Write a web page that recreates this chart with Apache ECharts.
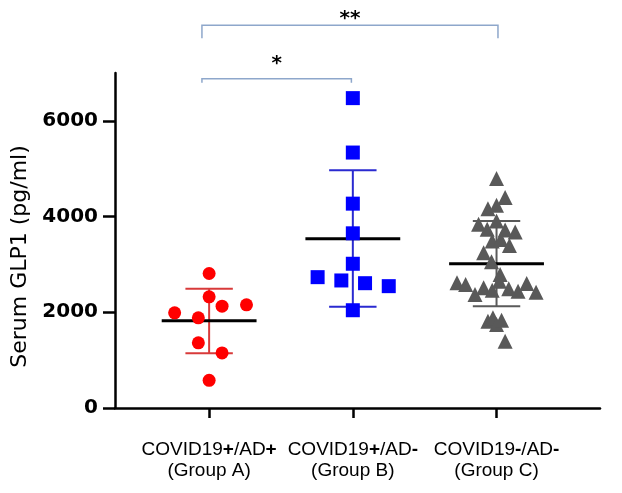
<!DOCTYPE html>
<html>
<head>
<meta charset="utf-8">
<script src="https://cdn.jsdelivr.net/npm/echarts@6/dist/echarts.min.js"></script>
<style>html,body{margin:0;padding:0;background:#fff}#c{width:622px;height:493px}</style>
</head>
<body>
<div id="c"></div>
<script>
// ---- data ----
const categories = ['COVID19+/AD+\n(Group A)', 'COVID19+/AD-\n(Group B)', 'COVID19-/AD-\n(Group C)'];
const yTicks = [0, 2000, 4000, 6000];

const groupAValues = [2811, 2323, 2127, 2156, 1988, 1884, 1361, 1151, 578];
const groupAJitter = [0, 0, 0.09, 0.26, -0.24, -0.075, -0.075, 0.09, 0];

const groupBValues = [6475, 5338, 4270, 3650, 3014, 2734, 2665, 2608, 2546, 2043];
const groupBJitter = [0, 0, 0, 0, 0, -0.245, -0.08, 0.085, 0.25, 0];

const groupCValues = [4794, 4396, 4166, 4235, 3837, 3906, 3733, 3718, 3676, 3488,
                      3523, 3398, 3245, 3057, 2790, 2650, 2617, 2581, 2512, 2462,
                      2372, 2491, 2441, 2602, 2420, 1813, 1884, 1744, 1834, 1394];
const groupCJitter = [0, 0.06, -0.06, 0, -0.125, 0, -0.065, 0.06, 0.13, -0.03,
                      0.03, 0.09, -0.09, -0.035, 0.025, 0.02, -0.275, -0.215, -0.09, -0.03,
                      -0.15, 0.085, 0.15, 0.21, 0.275, -0.06, -0.025, 0, 0.035, 0.06];

const groupMeans = [1821, 3538, 3014];
const groupSdLow = [1143, 2114, 2127];
const groupSdHigh = [2491, 4968, 3906];

const sigFrom = [0.95, 0.95];
const sigTo = [1.99, 3.01];
const sigLevel = [6880, 8000];
const sigDrop = [85, 272];
const sigLabels = ['*', '**'];

// ---- styles ----
const groupColors = ['#ff0000', '#0000ff', '#595959'];
const errColors = ['#d83a3a', '#2a2ad0', '#5a5a5a'];
const symbols = ['circle', 'rect', 'triangle'];
const symbolSizes = [13, 14, 15];
const sigGap = [15, 6];

function pts(vals, jit, cat) { return vals.map((v, i) => [cat + jit[i], v]); }
const groupData = [
  pts(groupAValues, groupAJitter, 1),
  pts(groupBValues, groupBJitter, 2),
  pts(groupCValues, groupCJitter, 3)
];

function richLabel(s) {
  return s.replace(/([+\-])/g, '{b|$1}');
}

const chart = echarts.init(document.getElementById('c'), null, {renderer: 'canvas'});

const summaryData = groupMeans.map((m, i) => [i + 1, m, groupSdLow[i], groupSdHigh[i]]);
const sigData = sigFrom.map((f, i) => [f, sigTo[i], sigLevel[i], sigDrop[i]]);

const option = {
  animation: false,
  backgroundColor: '#ffffff',
  grid: {left: 115, right: 22, top: 73, bottom: 85, containLabel: false},
  xAxis: {
    type: 'value', min: 0.345, max: 3.72,
    splitLine: {show: false},
    axisLine: {show: true, onZero: false, lineStyle: {color: '#000', width: 2.5}},
    axisTick: {show: true, customValues: [1, 2, 3], length: 10, lineStyle: {color: '#000', width: 2.5}},
    axisLabel: {
      show: true, customValues: [1, 2, 3], margin: 31,
      fontFamily: 'Liberation Sans', fontSize: 19, color: '#000', lineHeight: 21,
      formatter: v => richLabel(categories[Math.round(v) - 1]),
      rich: {b: {fontWeight: 'bold', fontFamily: 'Liberation Sans', fontSize: 19, color: '#000', lineHeight: 21}}
    }
  },
  yAxis: {
    type: 'value', min: 0, max: 7000,
    name: 'Serum GLP1 (pg/ml)', nameLocation: 'middle', nameRotate: 90, nameGap: 84,
    nameTextStyle: {fontFamily: 'DejaVu Sans', fontSize: 22, color: '#000', padding: [0, 32, 0, 0]},
    splitLine: {show: false},
    axisLine: {show: true, lineStyle: {color: '#000', width: 2.5}},
    axisTick: {show: true, customValues: yTicks, length: 12, lineStyle: {color: '#000', width: 2.5}},
    axisLabel: {show: true, customValues: yTicks, margin: 17, fontFamily: 'DejaVu Sans', fontWeight: 'bold', fontSize: 20, color: '#000',
      formatter: v => String(v)}
  },
  series: [
    {
      type: 'custom', name: 'summary', z: 2, clip: false,
      data: summaryData,
      renderItem: function (params, api) {
        const i = params.dataIndex;
        const x = api.value(0);
        const pm = api.coord([x, api.value(1)]);
        const pl = api.coord([x, api.value(2)]);
        const ph = api.coord([x, api.value(3)]);
        const mh = api.size([0.33, 0])[0];
        const ch = api.size([0.165, 0])[0];
        const ec = errColors[i];
        return {type: 'group', children: [
          {type: 'line', shape: {x1: pm[0], y1: pl[1], x2: pm[0], y2: ph[1]}, style: {stroke: ec, lineWidth: 2}},
          {type: 'line', shape: {x1: pm[0] - ch, y1: pl[1], x2: pm[0] + ch, y2: pl[1]}, style: {stroke: ec, lineWidth: 2}},
          {type: 'line', shape: {x1: pm[0] - ch, y1: ph[1], x2: pm[0] + ch, y2: ph[1]}, style: {stroke: ec, lineWidth: 2}},
          {type: 'line', shape: {x1: pm[0] - mh, y1: pm[1], x2: pm[0] + mh, y2: pm[1]}, style: {stroke: '#000', lineWidth: 3}}
        ]};
      }
    },
    ...groupData.map((d, i) => ({
      type: 'scatter', z: 3, data: d, symbol: symbols[i], symbolSize: symbolSizes[i],
      itemStyle: {color: groupColors[i], opacity: 1}
    })),
    {
      type: 'custom', name: 'sig', z: 4, clip: false,
      data: sigData,
      renderItem: function (params, api) {
        const i = params.dataIndex;
        const p1 = api.coord([api.value(0), api.value(2)]);
        const p2 = api.coord([api.value(1), api.value(2)]);
        const pd = api.coord([api.value(0), api.value(2) - api.value(3)]);
        return {type: 'group', children: [
          {type: 'polyline', shape: {points: [[p1[0], pd[1]], p1, p2, [p2[0], pd[1]]]},
           style: {stroke: '#8ea7cb', lineWidth: 1.5, fill: null}},
          {type: 'text', style: {text: sigLabels[i], x: (p1[0] + p2[0]) / 2, y: p1[1] - sigGap[i],
            align: 'center', verticalAlign: 'middle', fontFamily: 'DejaVu Sans', fontWeight: 'bold', fontSize: 20, fill: '#000'}}
        ]};
      }
    }
  ]
};
chart.setOption(option);
</script>
</body>
</html>
